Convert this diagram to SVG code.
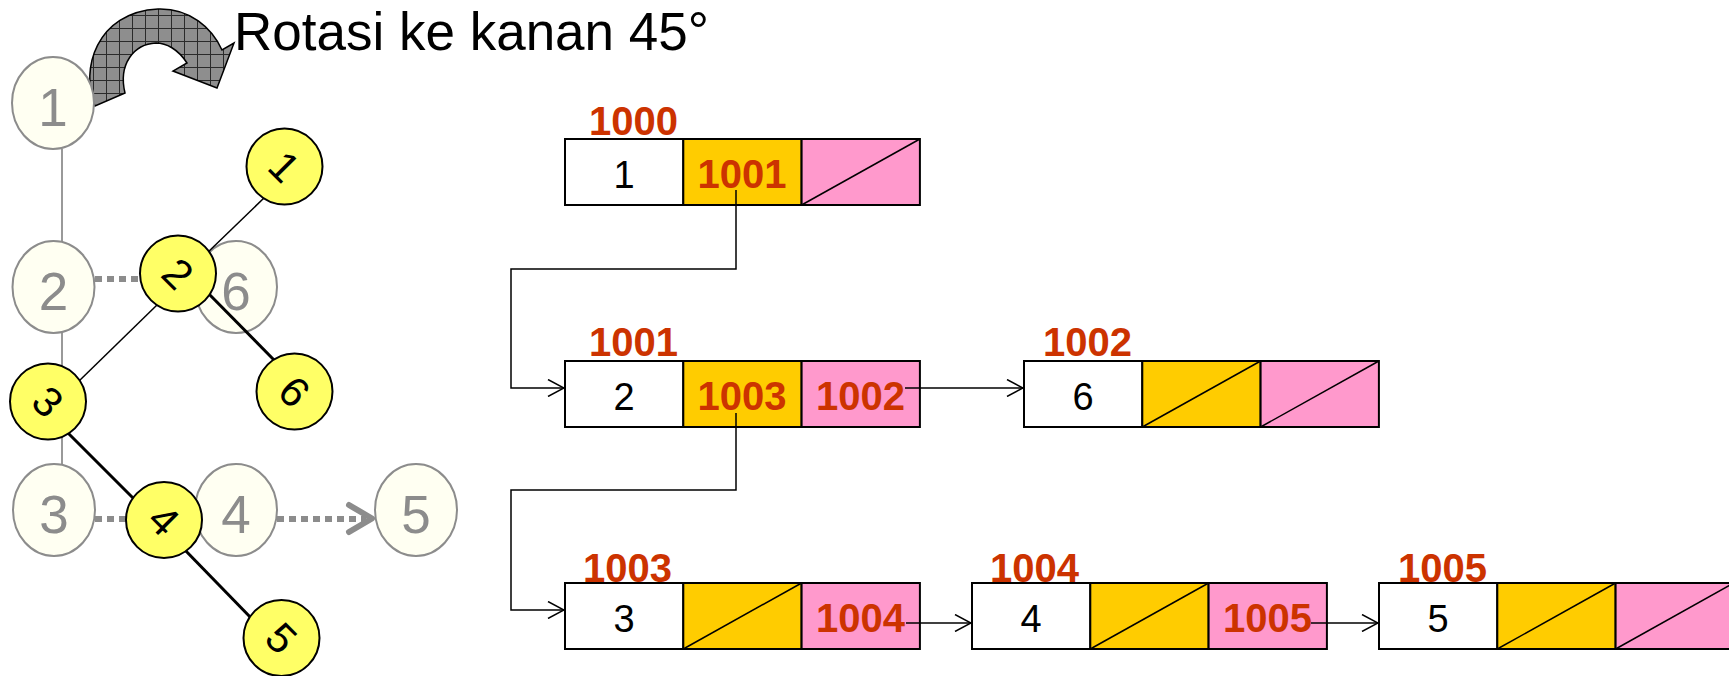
<svg xmlns="http://www.w3.org/2000/svg" width="1729" height="676" viewBox="0 0 1729 676">
<style>
.gnode{fill:#FFFFF2;stroke:#8C8C8C;stroke-width:2}
.gtxt{font-family:"Liberation Sans",Arial,sans-serif;font-size:53px;fill:#8C8C8C;text-anchor:middle}
.ynode{fill:#FFFF66;stroke:#000;stroke-width:2}
.ytxt{font-family:"Liberation Sans",Arial,sans-serif;font-size:42px;fill:#000;text-anchor:middle}
.gline{stroke:#999;stroke-width:2;fill:none}
.dot{stroke:#8C8C8C;stroke-width:6;stroke-dasharray:7 5;fill:none}
.thin{stroke:#000;stroke-width:1.5;fill:none}
.thick{stroke:#000;stroke-width:3;fill:none}
.cw{fill:#fff;stroke:#000;stroke-width:2}
.co{fill:#FFCC00;stroke:#000;stroke-width:2}
.cp{fill:#FF99CC;stroke:#000;stroke-width:2}
.diag{stroke:#000;stroke-width:1.5}
.val{font-family:"Liberation Sans",Arial,sans-serif;font-size:38px;fill:#000;text-anchor:middle}
.addr{font-family:"Liberation Sans",Arial,sans-serif;font-size:40px;font-weight:bold;fill:#CC3300}
.ptr{font-family:"Liberation Sans",Arial,sans-serif;font-size:40px;font-weight:bold;fill:#CC3300;text-anchor:middle}
.conn{stroke:#000;stroke-width:1.5;fill:none}
</style>
<defs>
<pattern id="grid" width="13" height="13" patternUnits="userSpaceOnUse" x="2" y="2">
<rect width="13" height="13" fill="#8E8E8E"/>
<path d="M0,0.5H13M0.5,0V13" stroke="#2a2a2a" stroke-width="1"/>
</pattern>
<marker id="arr" viewBox="0 0 18 18" refX="17" refY="9" markerWidth="18" markerHeight="18" markerUnits="userSpaceOnUse" orient="auto">
<path d="M1,0.5 L17,9 L1,17.5" fill="none" stroke="#000" stroke-width="1.5"/>
</marker>
</defs>
<rect width="1729" height="676" fill="#fff"/>

<g id="rotation">
<path d="M95,106 C80,70 96,12 158,9 C190,8 212,28 222,50 L234,43 L217,88 L173,71 L187,63 C178,49 166,43 156,43 C134,44 118,64 125,93 Z" fill="url(#grid)" stroke="#000" stroke-width="1.5"/>
<text x="234" y="50" font-family="Liberation Sans, Arial, sans-serif" font-size="53" fill="#000">Rotasi ke kanan 45°</text>
</g>

<g id="gray-lines">
<line class="gline" x1="62" y1="149" x2="62" y2="242"/>
<line class="gline" x1="62" y1="333" x2="62" y2="464"/>
<line class="dot" x1="95" y1="279" x2="150" y2="279"/>
<line class="dot" x1="95" y1="519" x2="150" y2="519"/>
<line class="dot" x1="277" y1="519" x2="366" y2="519"/>
<path d="M349,505 L372,518.5 L349,532" fill="none" stroke="#8C8C8C" stroke-width="6" stroke-linecap="round" stroke-linejoin="round"/>
</g>
<g id="g1"><ellipse class="gnode" cx="53" cy="103" rx="41" ry="46"/><text class="gtxt" x="53" y="126">1</text></g>
<g id="g2"><ellipse class="gnode" cx="53.5" cy="287" rx="41" ry="46"/><text class="gtxt" x="53.5" y="310">2</text></g>
<g id="g6"><ellipse class="gnode" cx="236" cy="287" rx="41" ry="46"/><text class="gtxt" x="236" y="310">6</text></g>
<g id="g3"><ellipse class="gnode" cx="54" cy="510" rx="41" ry="46"/><text class="gtxt" x="54" y="533">3</text></g>
<g id="g4"><ellipse class="gnode" cx="236" cy="510" rx="41" ry="46"/><text class="gtxt" x="236" y="533">4</text></g>
<g id="g5"><ellipse class="gnode" cx="416" cy="510" rx="41" ry="46"/><text class="gtxt" x="416" y="533">5</text></g>

<g id="tree-edges">
<line class="thin" x1="265" y1="197" x2="205" y2="255"/>
<line class="thin" x1="158" y1="304" x2="78" y2="382"/>
<line class="thick" x1="205" y1="290" x2="276" y2="362"/>
<line class="thick" x1="65" y1="430" x2="136" y2="501"/>
<line class="thick" x1="183" y1="548" x2="254" y2="621"/>
</g>
<g id="y1"><circle class="ynode" cx="284.5" cy="166.5" r="38"/><text class="ytxt" x="284.5" y="181.5" transform="rotate(45 284.5 166.5)">1</text></g>
<g id="y2"><circle class="ynode" cx="178" cy="273.5" r="38"/><text class="ytxt" x="178" y="288.5" transform="rotate(45 178 273.5)">2</text></g>
<g id="y6"><circle class="ynode" cx="294.5" cy="391.5" r="38"/><text class="ytxt" x="294.5" y="406.5" transform="rotate(45 294.5 391.5)">6</text></g>
<g id="y3"><circle class="ynode" cx="48" cy="401.5" r="38"/><text class="ytxt" x="48" y="416.5" transform="rotate(45 48 401.5)">3</text></g>
<g id="y4"><circle class="ynode" cx="164" cy="520" r="38"/><text class="ytxt" x="164" y="535" transform="rotate(45 164 520)">4</text></g>
<g id="y5"><circle class="ynode" cx="281.5" cy="638" r="38"/><text class="ytxt" x="281.5" y="653" transform="rotate(45 281.5 638)">5</text></g>

<g id="n1000">
<text class="addr" x="589" y="135">1000</text>
<rect class="cw" x="565" y="139" width="118.3" height="66"/>
<rect class="co" x="683.3" y="139" width="118.3" height="66"/>
<rect class="cp" x="801.6" y="139" width="118.3" height="66"/>
<line class="diag" x1="801.6" y1="205" x2="919.9" y2="139"/>
<text class="val" x="624" y="188">1</text>
<text class="ptr" x="742" y="188">1001</text>
</g>
<g id="n1001">
<text class="addr" x="589" y="356">1001</text>
<rect class="cw" x="565" y="361" width="118.3" height="66"/>
<rect class="co" x="683.3" y="361" width="118.3" height="66"/>
<rect class="cp" x="801.6" y="361" width="118.3" height="66"/>
<text class="val" x="624" y="410">2</text>
<text class="ptr" x="742" y="410">1003</text>
<text class="ptr" x="860.5" y="410">1002</text>
</g>
<g id="n1002">
<text class="addr" x="1043" y="356">1002</text>
<rect class="cw" x="1024" y="361" width="118.3" height="66"/>
<rect class="co" x="1142.3" y="361" width="118.3" height="66"/>
<rect class="cp" x="1260.6" y="361" width="118.3" height="66"/>
<line class="diag" x1="1142.3" y1="427" x2="1260.6" y2="361"/>
<line class="diag" x1="1260.6" y1="427" x2="1378.9" y2="361"/>
<text class="val" x="1083" y="410">6</text>
</g>
<g id="n1003">
<text class="addr" x="583" y="582">1003</text>
<rect class="cw" x="565" y="583" width="118.3" height="66"/>
<rect class="co" x="683.3" y="583" width="118.3" height="66"/>
<rect class="cp" x="801.6" y="583" width="118.3" height="66"/>
<line class="diag" x1="683.3" y1="649" x2="801.6" y2="583"/>
<text class="val" x="624" y="632">3</text>
<text class="ptr" x="860.5" y="632">1004</text>
</g>
<g id="n1004">
<text class="addr" x="990" y="582">1004</text>
<rect class="cw" x="972" y="583" width="118.3" height="66"/>
<rect class="co" x="1090.3" y="583" width="118.3" height="66"/>
<rect class="cp" x="1208.6" y="583" width="118.3" height="66"/>
<line class="diag" x1="1090.3" y1="649" x2="1208.6" y2="583"/>
<text class="val" x="1031" y="632">4</text>
<text class="ptr" x="1267.5" y="632">1005</text>
</g>
<g id="n1005">
<text class="addr" x="1398" y="582">1005</text>
<rect class="cw" x="1379" y="583" width="118.3" height="66"/>
<rect class="co" x="1497.3" y="583" width="118.3" height="66"/>
<rect class="cp" x="1615.6" y="583" width="118.3" height="66"/>
<line class="diag" x1="1497.3" y1="649" x2="1615.6" y2="583"/>
<line class="diag" x1="1615.6" y1="649" x2="1733.9" y2="583"/>
<text class="val" x="1438" y="632">5</text>
</g>

<g id="connectors">
<path class="conn" d="M736,190 V269 H511 V388 H564" marker-end="url(#arr)"/>
<path class="conn" d="M736,413 V490 H511 V610 H564" marker-end="url(#arr)"/>
<path class="conn" d="M905,388 H1023" marker-end="url(#arr)"/>
<path class="conn" d="M906,623 H971" marker-end="url(#arr)"/>
<path class="conn" d="M1311,623 H1378" marker-end="url(#arr)"/>
</g>
</svg>
